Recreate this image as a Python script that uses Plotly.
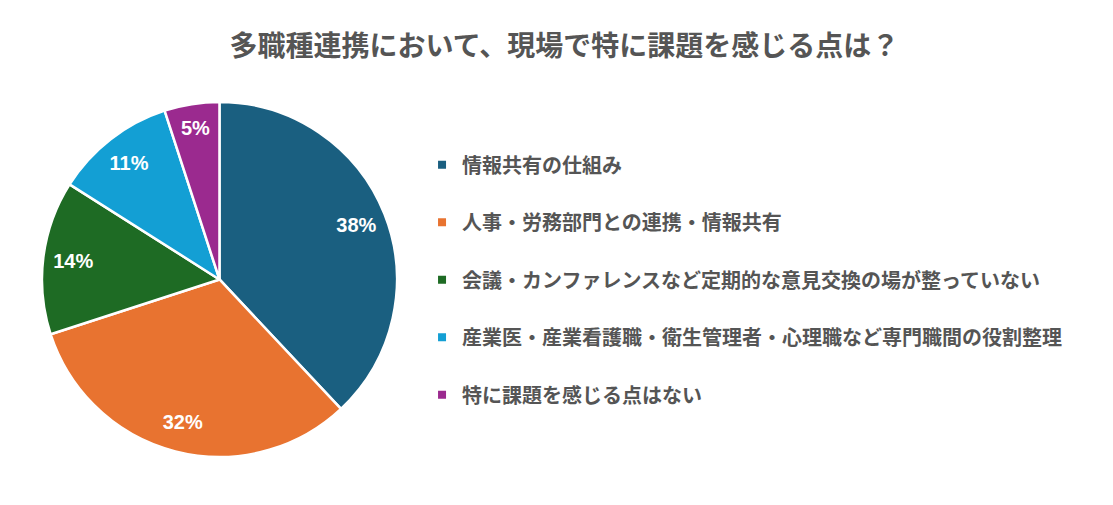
import plotly.graph_objects as go

TITLE = "多職種連携において、現場で特に課題を感じる点は？"
categories = [
    "情報共有の仕組み",
    "人事・労務部門との連携・情報共有",
    "会議・カンファレンスなど定期的な意見交換の場が整っていない",
    "産業医・産業看護職・衛生管理者・心理職など専門職間の役割整理",
    "特に課題を感じる点はない",
]
values = [38, 32, 14, 11, 5]
colors = ["#1a5f80", "#e87330", "#1e6b24", "#139fd4", "#9b2a8f"]

FONT = "Liberation Sans, Noto Sans CJK JP, sans-serif"
GRAY = "#555555"

# pie area in paper fractions
PIE_DOMAIN = dict(x=[0.0305, 0.3495], y=[0.111, 0.814])

fig = go.Figure()

# coloured slices, no text
fig.add_trace(go.Pie(
    labels=categories,
    values=values,
    sort=False,
    direction="clockwise",
    rotation=0,
    marker=dict(colors=colors, line=dict(color="white", width=2.5)),
    textinfo="none",
    domain=PIE_DOMAIN,
    showlegend=False,
    hoverinfo="label+percent",
))

# transparent donut on top only to push the percentage labels outwards
fig.add_trace(go.Pie(
    labels=categories,
    values=values,
    sort=False,
    direction="clockwise",
    rotation=0,
    hole=0.66,
    marker=dict(colors=["rgba(0,0,0,0)"] * len(values), line=dict(width=0)),
    texttemplate="%{value}%",
    textposition="inside",
    insidetextorientation="horizontal",
    textfont=dict(family=FONT, size=20, color="white", weight="bold"),
    domain=PIE_DOMAIN,
    showlegend=False,
    hoverinfo="skip",
))

# legend entries as empty scatter traces so the gap between rows can be set
for i, (name, c) in enumerate(zip(categories, colors)):
    fig.add_trace(go.Scatter(
        x=[None], y=[None], mode="markers", name=name,
        marker=dict(symbol="square", size=8, color=c),
        legendgroup=f"g{i}",
    ))

fig.update_layout(
    width=1113, height=505,
    margin=dict(l=0, r=0, t=0, b=0),
    paper_bgcolor="white", plot_bgcolor="white",
    font=dict(family=FONT, color=GRAY),
    title=dict(
        text=TITLE, x=0.5, xanchor="center", y=1 - 38 / 505, yanchor="middle",
        yref="container", font=dict(size=28, color=GRAY, weight="bold"),
    ),
    xaxis=dict(visible=False),
    yaxis=dict(visible=False),
    legend=dict(
        x=0.372, y=0.728, xanchor="left", yanchor="top",
        font=dict(size=20, color=GRAY, weight="bold"),
        tracegroupgap=28.5, itemwidth=30,
    ),
)

fig.write_html("out.html")
